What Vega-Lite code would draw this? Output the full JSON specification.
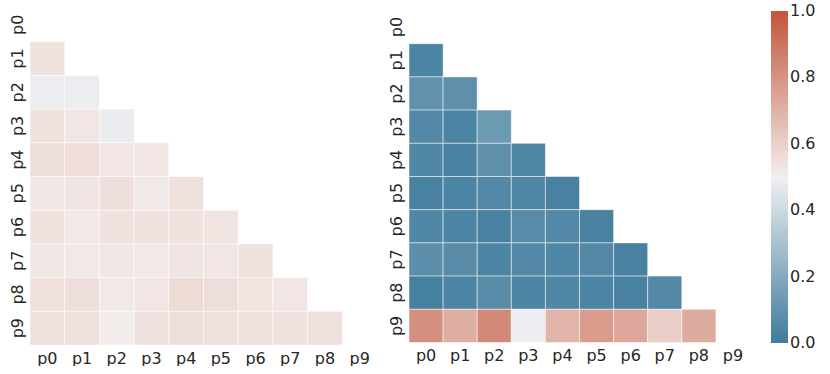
{
  "$schema": "https://vega.github.io/schema/vega-lite/v6.json",
  "background": "white",
  "padding": {"left": 8, "top": 8, "right": 0, "bottom": 0},
  "autosize": {"type": "pad"},
  "spacing": 11,
  "center": true,
  "config": {
    "view": {"stroke": null},
    "axis": {"labelFont": "DejaVu Sans", "labelFontSize": 16, "labelColor": "#262626", "ticks": false, "domain": false, "grid": false, "title": null},
    "legend": {"title": null, "orient": "right", "direction": "vertical", "gradientLength": 332, "gradientThickness": 17, "gradientStrokeWidth": 0, "format": ".1f", "labelFont": "DejaVu Sans", "labelFontSize": 16, "labelColor": "#262626", "labelOffset": 9, "labelBaseline": "middle", "offset": 18, "padding": 3}
  },
  "datasets": {
    "left": [
      {"row": "p1", "col": "p0", "value": 0.54},
      {"row": "p2", "col": "p0", "value": 0.486}, {"row": "p2", "col": "p1", "value": 0.487},
      {"row": "p3", "col": "p0", "value": 0.54}, {"row": "p3", "col": "p1", "value": 0.527}, {"row": "p3", "col": "p2", "value": 0.483},
      {"row": "p4", "col": "p0", "value": 0.553}, {"row": "p4", "col": "p1", "value": 0.558}, {"row": "p4", "col": "p2", "value": 0.527}, {"row": "p4", "col": "p3", "value": 0.527},
      {"row": "p5", "col": "p0", "value": 0.522}, {"row": "p5", "col": "p1", "value": 0.532}, {"row": "p5", "col": "p2", "value": 0.553}, {"row": "p5", "col": "p3", "value": 0.518}, {"row": "p5", "col": "p4", "value": 0.548},
      {"row": "p6", "col": "p0", "value": 0.54}, {"row": "p6", "col": "p1", "value": 0.518}, {"row": "p6", "col": "p2", "value": 0.54}, {"row": "p6", "col": "p3", "value": 0.54}, {"row": "p6", "col": "p4", "value": 0.54}, {"row": "p6", "col": "p5", "value": 0.535},
      {"row": "p7", "col": "p0", "value": 0.522}, {"row": "p7", "col": "p1", "value": 0.518}, {"row": "p7", "col": "p2", "value": 0.522}, {"row": "p7", "col": "p3", "value": 0.518}, {"row": "p7", "col": "p4", "value": 0.532}, {"row": "p7", "col": "p5", "value": 0.527}, {"row": "p7", "col": "p6", "value": 0.54},
      {"row": "p8", "col": "p0", "value": 0.548}, {"row": "p8", "col": "p1", "value": 0.553}, {"row": "p8", "col": "p2", "value": 0.518}, {"row": "p8", "col": "p3", "value": 0.527}, {"row": "p8", "col": "p4", "value": 0.565}, {"row": "p8", "col": "p5", "value": 0.553}, {"row": "p8", "col": "p6", "value": 0.535}, {"row": "p8", "col": "p7", "value": 0.527},
      {"row": "p9", "col": "p0", "value": 0.548}, {"row": "p9", "col": "p1", "value": 0.548}, {"row": "p9", "col": "p2", "value": 0.51}, {"row": "p9", "col": "p3", "value": 0.545}, {"row": "p9", "col": "p4", "value": 0.553}, {"row": "p9", "col": "p5", "value": 0.548}, {"row": "p9", "col": "p6", "value": 0.548}, {"row": "p9", "col": "p7", "value": 0.54}, {"row": "p9", "col": "p8", "value": 0.548}
    ],
    "right": [
      {"row": "p1", "col": "p0", "value": 0.04},
      {"row": "p2", "col": "p0", "value": 0.10}, {"row": "p2", "col": "p1", "value": 0.09},
      {"row": "p3", "col": "p0", "value": 0.06}, {"row": "p3", "col": "p1", "value": 0.04}, {"row": "p3", "col": "p2", "value": 0.13},
      {"row": "p4", "col": "p0", "value": 0.05}, {"row": "p4", "col": "p1", "value": 0.03}, {"row": "p4", "col": "p2", "value": 0.09}, {"row": "p4", "col": "p3", "value": 0.05},
      {"row": "p5", "col": "p0", "value": 0.03}, {"row": "p5", "col": "p1", "value": 0.04}, {"row": "p5", "col": "p2", "value": 0.06}, {"row": "p5", "col": "p3", "value": 0.05}, {"row": "p5", "col": "p4", "value": 0.03},
      {"row": "p6", "col": "p0", "value": 0.05}, {"row": "p6", "col": "p1", "value": 0.04}, {"row": "p6", "col": "p2", "value": 0.03}, {"row": "p6", "col": "p3", "value": 0.07}, {"row": "p6", "col": "p4", "value": 0.06}, {"row": "p6", "col": "p5", "value": 0.03},
      {"row": "p7", "col": "p0", "value": 0.08}, {"row": "p7", "col": "p1", "value": 0.07}, {"row": "p7", "col": "p2", "value": 0.04}, {"row": "p7", "col": "p3", "value": 0.06}, {"row": "p7", "col": "p4", "value": 0.05}, {"row": "p7", "col": "p5", "value": 0.06}, {"row": "p7", "col": "p6", "value": 0.03},
      {"row": "p8", "col": "p0", "value": 0.02}, {"row": "p8", "col": "p1", "value": 0.04}, {"row": "p8", "col": "p2", "value": 0.07}, {"row": "p8", "col": "p3", "value": 0.04}, {"row": "p8", "col": "p4", "value": 0.05}, {"row": "p8", "col": "p5", "value": 0.04}, {"row": "p8", "col": "p6", "value": 0.03}, {"row": "p8", "col": "p7", "value": 0.06},
      {"row": "p9", "col": "p0", "value": 0.81}, {"row": "p9", "col": "p1", "value": 0.71}, {"row": "p9", "col": "p2", "value": 0.83}, {"row": "p9", "col": "p3", "value": 0.49}, {"row": "p9", "col": "p4", "value": 0.69}, {"row": "p9", "col": "p5", "value": 0.77}, {"row": "p9", "col": "p6", "value": 0.73}, {"row": "p9", "col": "p7", "value": 0.61}, {"row": "p9", "col": "p8", "value": 0.72}
    ]
  },
  "hconcat": [
    {
      "width": 347,
      "height": 337,
      "data": {"name": "left"},
      "mark": {"type": "rect", "stroke": "white", "strokeWidth": 0.5},
      "encoding": {
        "x": {"field": "col", "type": "nominal", "scale": {"domain": ["p0","p1","p2","p3","p4","p5","p6","p7","p8","p9"], "paddingInner": 0, "paddingOuter": 0}, "axis": {"labelAngle": 0, "labelPadding": 5}},
        "y": {"field": "row", "type": "nominal", "scale": {"domain": ["p0","p1","p2","p3","p4","p5","p6","p7","p8","p9"], "paddingInner": 0, "paddingOuter": 0}, "axis": {"labelAngle": -90, "labelPadding": 5}},
        "color": {"field": "value", "type": "quantitative", "scale": {"domain": [0, 0.498, 0.502, 1], "range": ["#3e7b9c", "#eff0f2", "#f3eeed", "#c3553a"], "interpolate": "rgb"},
          "legend": {"values": [0, 0.2, 0.4, 0.6, 0.8, 1], "labelFontSize": 16, "labelFont": "DejaVu Sans", "encode": {"labels": {"update": {"baseline": {"value": "middle"}, "fontSize": {"value": 16}}}}}}
      }
    },
    {
      "width": 341,
      "height": 332,
      "data": {"name": "right"},
      "mark": {"type": "rect", "stroke": "white", "strokeWidth": 0.5},
      "encoding": {
        "x": {"field": "col", "type": "nominal", "scale": {"domain": ["p0","p1","p2","p3","p4","p5","p6","p7","p8","p9"], "paddingInner": 0, "paddingOuter": 0}, "axis": {"labelAngle": 0, "labelPadding": 5}},
        "y": {"field": "row", "type": "nominal", "scale": {"domain": ["p0","p1","p2","p3","p4","p5","p6","p7","p8","p9"], "paddingInner": 0, "paddingOuter": 0}, "axis": {"labelAngle": -90, "labelPadding": 5}},
        "color": {"field": "value", "type": "quantitative", "scale": {"domain": [0, 0.498, 0.502, 1], "range": ["#3e7b9c", "#eff0f2", "#f3eeed", "#c3553a"], "interpolate": "rgb"},
          "legend": {"values": [0, 0.2, 0.4, 0.6, 0.8, 1], "labelFontSize": 16, "labelFont": "DejaVu Sans", "encode": {"labels": {"update": {"baseline": {"value": "middle"}, "fontSize": {"value": 16}}}}}}
      }
    }
  ]
}
